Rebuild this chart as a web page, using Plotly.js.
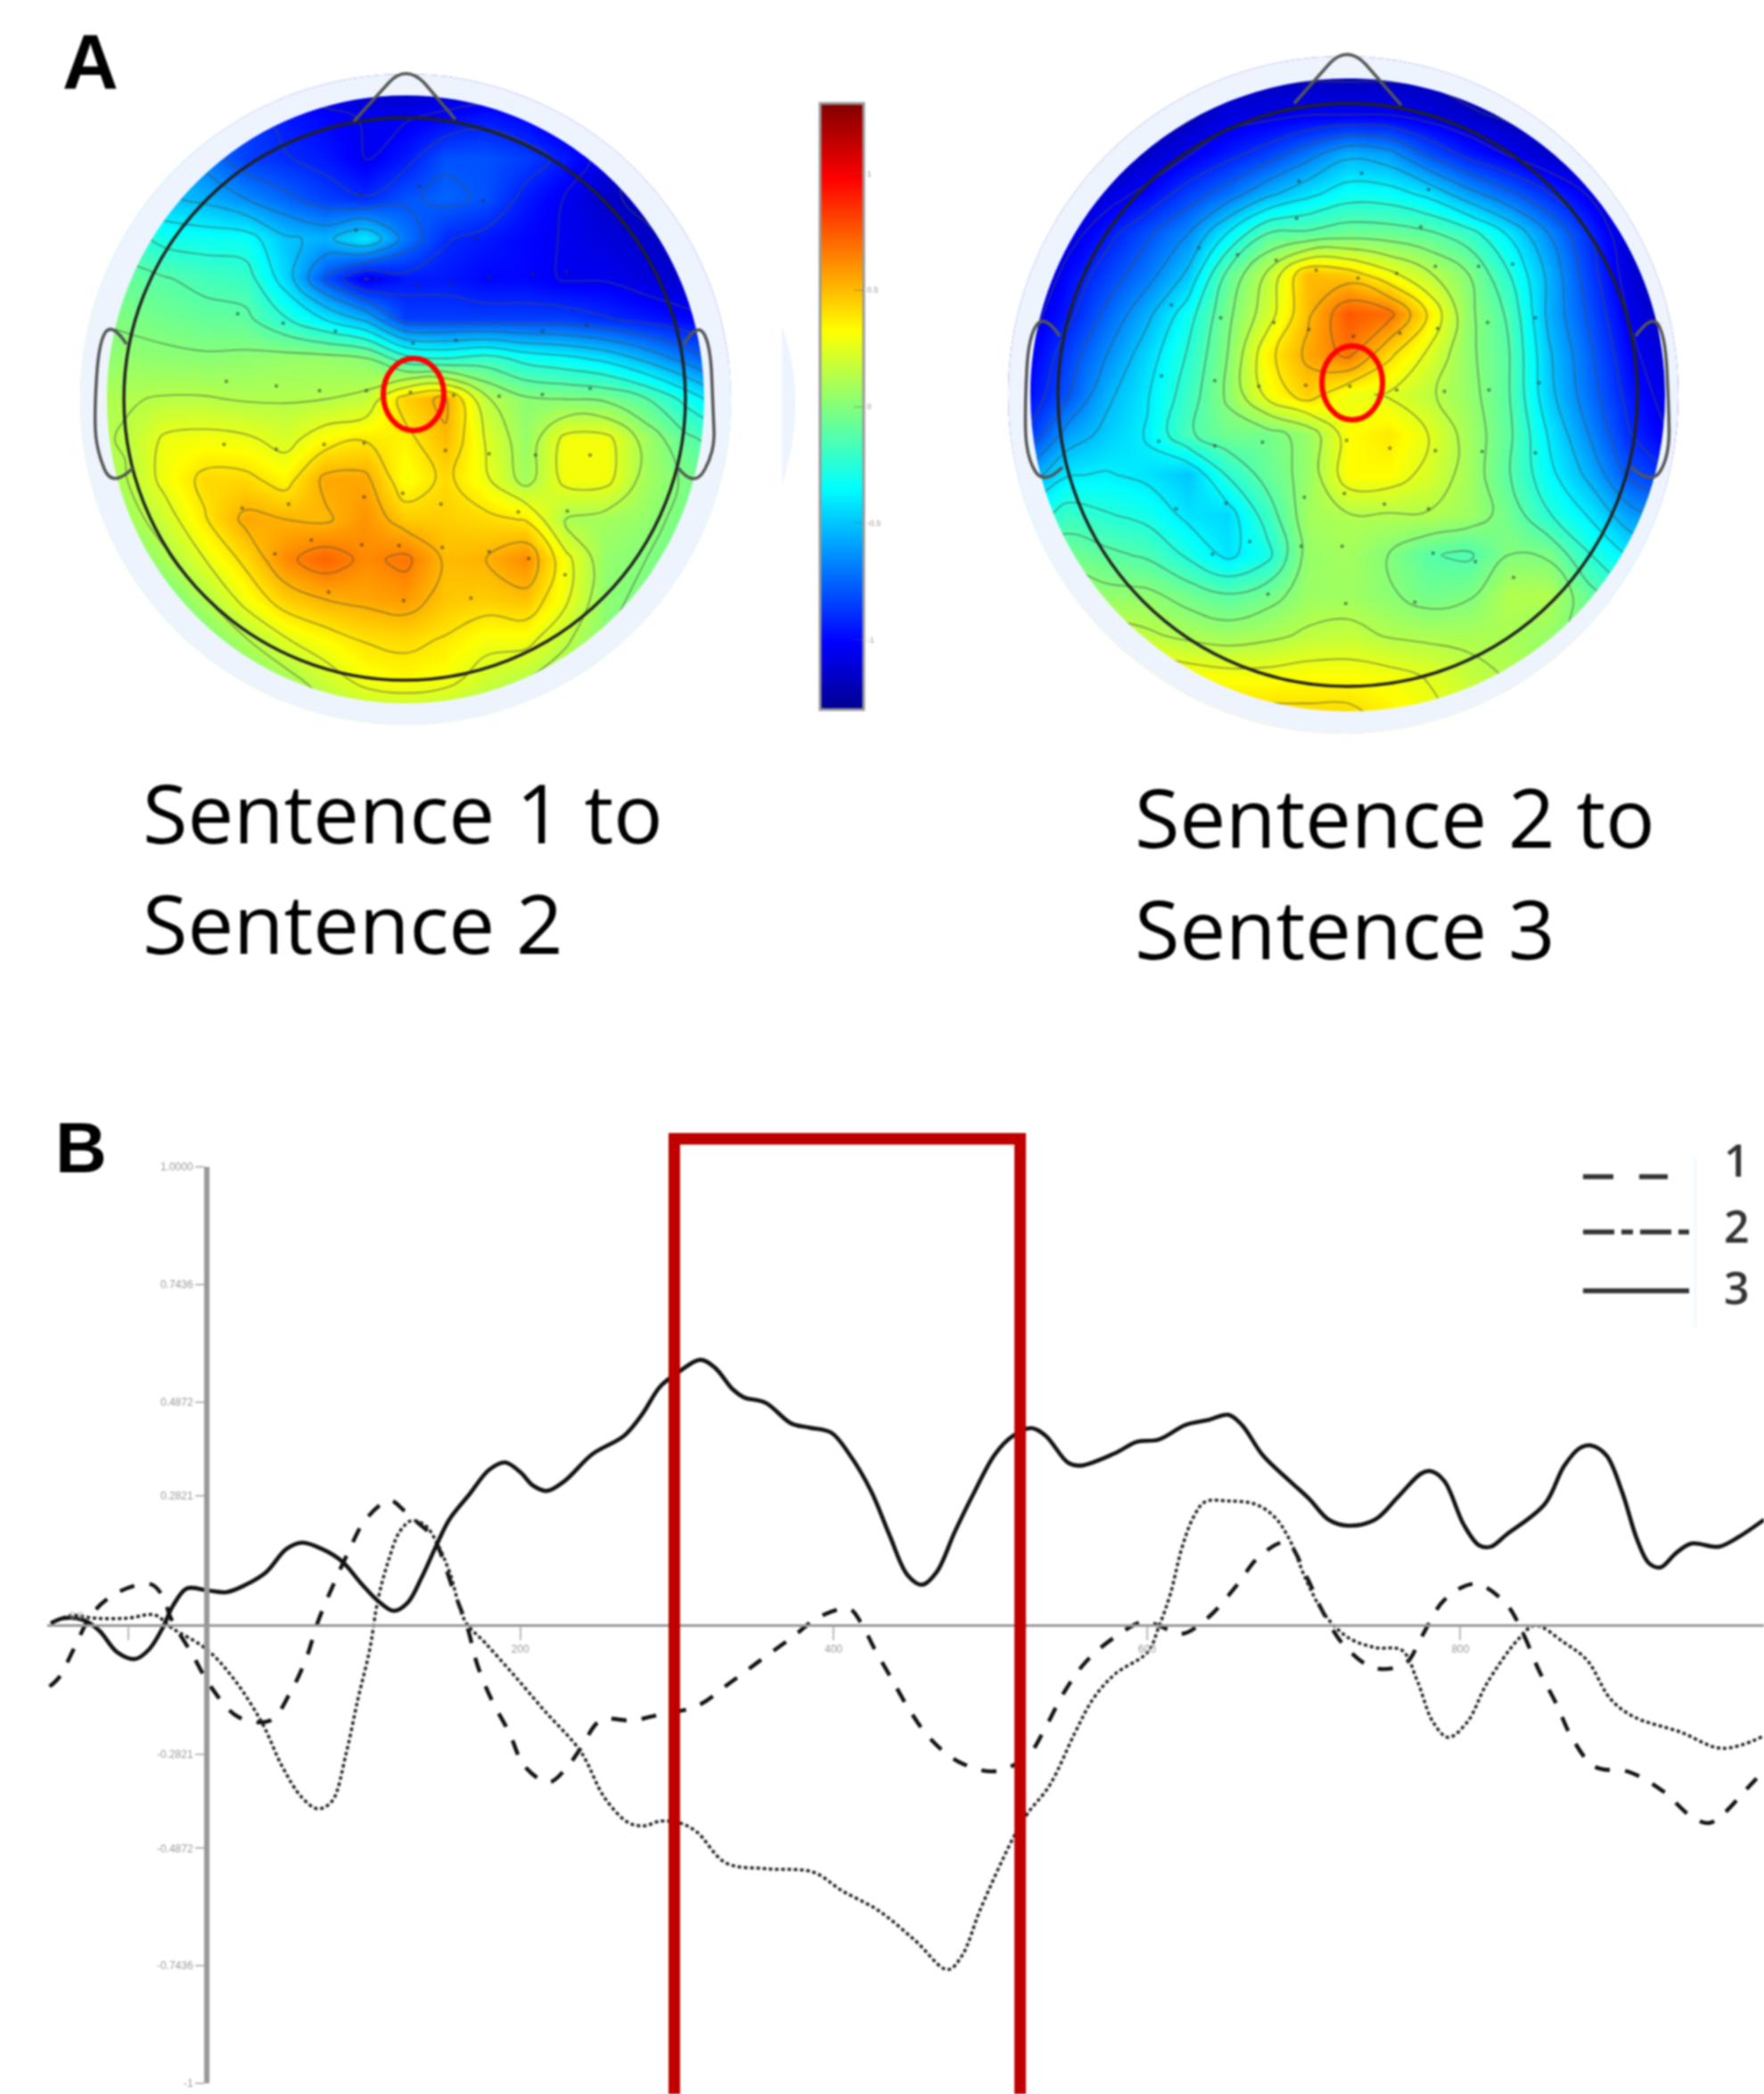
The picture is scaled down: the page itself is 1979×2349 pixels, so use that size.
<!DOCTYPE html>
<html><head><meta charset="utf-8">
<script src="https://cdn.plot.ly/plotly-3.0.1.min.js"></script>
<style>html,body{margin:0;padding:0;background:#fff}#chart{width:1979px;height:2349px;filter:blur(1px)}</style>
</head><body><div id="chart"></div>
<script>
// ---------- panel B: event-related potentials ----------
const s1Ms=[-100.3,-94,-85,-72.4,-55.9,-35.6,-28,-22.9,-8.9,2.5,20.3,40.6,53.3,63.4,71,80,90,101.5,116.8,125.6,134.5,144.7,157.4,166.3,172.6,181.5,193,203,218.3,228.5,238.6,251.3,271.6,289.4,312.6,333.5,352,373,391.5,410,417,426.3,436.8,448.4,461.2,479.7,503,523.8,535.4,547,561,579.5,598,607.4,622.3,639.5,656.8,671.5,688.8,702.3,712.2,725.7,745.4,765.1,775,789.8,809.5,829.2,840.3,850.1,861.2,871,885.8,908,929,947.4,958.5,967.1,983.1,993.7];
const s1Val=[-.134,-.113,-.053,.028,.073,.089,.062,.015,-.066,-.134,-.201,-.208,-.147,-.073,.008,.082,.157,.231,.272,.251,.224,.19,.076,-.005,-.086,-.161,-.235,-.309,-.343,-.316,-.269,-.208,-.208,-.195,-.177,-.127,-.08,-.028,.019,.035,.008,-.053,-.116,-.185,-.246,-.298,-.319,-.285,-.222,-.147,-.08,-.026,.008,-.001,-.019,.018,.085,.149,.18,.102,.029,-.044,-.094,-.083,-.027,.055,.09,.046,-.021,-.099,-.172,-.245,-.309,-.321,-.362,-.418,-.432,-.414,-.356,-.317];
const s2Ms=[-99.5,-86.4,-71.1,-50.8,-33,-22.9,0,17.8,35.5,48.2,60.9,71.1,80,88.8,96.5,104,109.2,115.5,123.1,130.7,139.6,147.2,154.9,165,177.7,195.5,215.8,238.6,253.9,269,279.3,289,301,312.6,331.2,359,386.9,405.5,428.7,451.9,472.8,482,493.7,514.5,523.8,537.8,554,565.6,579.5,600.4,607.5,614.9,622.3,629.7,637,651.8,669,681.4,691.2,701.1,713.4,728.2,745.4,762.7,772.5,782.4,792.2,804.5,816.9,836.6,847.6,866.1,880.9,895.7,910.5,940,967.1,993.7];
const s2Val=[.004,.021,.015,.015,.022,-.005,-.053,-.12,-.215,-.309,-.377,-.401,-.384,-.282,-.161,-.053,.055,.136,.204,.228,.217,.177,.116,.008,-.039,-.107,-.188,-.276,-.377,-.431,-.438,-.428,-.431,-.451,-.519,-.532,-.539,-.58,-.623,-.688,-.752,-.721,-.62,-.465,-.411,-.35,-.235,-.161,-.107,-.059,-.004,.068,.169,.236,.269,.271,.264,.236,.185,.102,.023,-.027,-.049,-.055,-.122,-.211,-.245,-.211,-.127,-.032,-.001,-.038,-.077,-.161,-.2,-.233,-.269,-.242];
const s3Ms=[-99.5,-91.4,-78.7,-68.6,-57.2,-45.7,-36.8,-28,-21.6,-12.7,0,12.7,25.4,38,50.8,61,73.6,86.3,99,109.2,119.3,128.2,137,146,154.9,167.5,180.2,190.4,200.6,208,217,228.5,246,266.2,277.8,289.4,301,315,324.2,335.8,342.8,356.7,373,384.6,398.5,410,424,435.6,447.2,456.5,465.8,477.4,489,503,514.5,526.2,535.4,549.4,557.5,579.5,593.5,607.5,624.7,639.5,651.8,660.5,674,691.2,703.6,715.9,728.2,745.4,760.2,775,781.1,789.8,802.1,811.9,819.3,829.2,853.8,866.1,876,883.4,893.2,903,912.9,920.3,927.7,937.5,947.4,964.6,976.9,993.7];
const s3Val=[.004,.015,.011,-.012,-.059,-.074,-.053,-.005,.042,.08,.076,.072,.089,.116,.166,.18,.166,.139,.089,.053,.031,.049,.103,.17,.231,.285,.339,.355,.332,.305,.293,.315,.373,.413,.46,.521,.552,.579,.562,.514,.497,.485,.44,.431,.42,.373,.292,.197,.109,.088,.116,.204,.285,.373,.413,.43,.413,.355,.348,.375,.4,.405,.437,.448,.459,.437,.37,.314,.275,.23,.217,.23,.28,.331,.336,.314,.219,.174,.171,.197,.264,.347,.386,.392,.37,.292,.185,.135,.126,.157,.178,.171,.191,.23];
const seriesNames=['1','2','3'];
const yTickVals=[1,.7436,.4872,.2821,-.2821,-.4872,-.7436,-1];
const yTickText=['1.0000','0.7436','0.4872','0.2821','-0.2821','-0.4872','-0.7436','-1'];
const xTickVals=[-50,200,400,600,800];
const xTickText=['','200','400','600','800'];

// ---------- panel A: scalp maps (columns left to right, rows front to back) ----------
const mapAX=[69,157,245,333,422,510,598,686,774,862,951,1039,1127,1215,1303,1392,1480];
const mapAY=[130,216,302,388,474,560,646,732,818,904,990,1076,1162,1248,1334,1420,1506];
const mapAZ=[
[-.8,-.8,-.8,-.8,-1,-1.1,-1.15,-1.2,-1.2,-1.2,-1.2,-1.2,-1.2,-1.25,-1.25,-1.25,-1.25],
[-.6,-.6,-.7,-.75,-.85,-.95,-1,-1.05,-1.05,-1,-.95,-1,-1.1,-1.2,-1.25,-1.25,-1.25],
[-.5,-.5,-.55,-.7,-.85,-.9,-.95,-1.05,-.95,-.8,-.8,-.85,-.95,-1.1,-1.25,-1.25,-1.25],
[-.35,-.45,-.5,-.55,-.65,-.75,-.85,-.9,-.8,-.75,-.8,-.95,-1.05,-1.15,-1.2,-1.25,-1.25],
[-.15,-.2,-.3,-.32,-.33,-.5,-.55,-.4,-.7,-.9,-.95,-1,-1.05,-1.1,-1.15,-1.2,-1.2],
[-.1,-.08,-.12,-.17,-.2,-.45,-.8,-1.05,-.95,-.95,-1,-1,-1.05,-1.05,-1.1,-1.15,-1.2],
[0,-.02,-.05,-.08,-.1,-.25,-.4,-.55,-.85,-.85,-.85,-.85,-.85,-.9,-.95,-1,-1.05],
[.02,.04,.03,.02,.03,.05,.05,.02,-.2,-.25,-.2,-.3,-.35,-.42,-.55,-.7,-.85],
[.1,.12,.14,.14,.12,.12,.13,.16,.45,.55,.15,.02,0,-.02,-.12,-.3,-.5],
[.1,.14,.28,.3,.28,.22,.33,.38,.35,.5,.25,.05,.3,.3,.08,-.1,-.2],
[.08,.12,.3,.42,.42,.34,.55,.55,.3,.42,.28,.08,.3,.3,.08,-.02,-.1],
[.02,.06,.2,.38,.55,.52,.5,.6,.46,.45,.42,.38,.1,.08,.04,-.04,-.1],
[-.1,-.05,.1,.26,.42,.62,.72,.62,.68,.5,.52,.62,.3,.04,0,-.08,-.15],
[-.15,-.1,-.05,.12,.3,.45,.52,.55,.58,.47,.45,.48,.28,.03,-.03,-.1,-.15],
[-.2,-.15,-.1,-.03,.12,.25,.33,.4,.42,.38,.3,.3,.15,0,-.1,-.15,-.2],
[-.2,-.15,-.12,-.08,-.02,.08,.2,.3,.33,.3,.2,.13,.05,-.05,-.1,-.15,-.2],
[-.2,-.15,-.12,-.1,-.08,-.05,.05,.1,.12,.1,.05,0,-.05,-.1,-.15,-.2,-.2]];
const elecAX=[675,805,945,928,665,710,800,875,958,1055,1128,405,505,620,790,885,1075,1172,380,490,585,688,785,880,980,1075,1180,375,490,595,683,862,958,1060,1180,415,517,683,768,852,1022,1130,487,567,678,760,855,958,1045,1125,605,770,918];
const elecAY=[378,362,392,472,455,560,575,570,556,550,545,635,655,672,698,692,672,660,780,790,800,800,803,810,812,808,795,915,925,915,912,928,935,938,938,1052,1043,1028,1020,1043,1060,1058,1150,1120,1130,1132,1136,1145,1160,1195,1232,1250,1245];

const mapBX=[102,190,278,367,455,543,631,720,808,896,984,1073,1161,1249,1337,1426,1514];
const mapBY=[82,168,254,340,426,512,598,684,770,856,942,1028,1114,1200,1286,1372,1458];
const mapBZ=[
[-1.25,-1.25,-1.25,-1.25,-1.25,-1.2,-1.2,-1.2,-1.2,-1.2,-1.2,-1.25,-1.25,-1.25,-1.25,-1.25,-1.25],
[-1.25,-1.25,-1.25,-1.25,-1.2,-1.1,-1.08,-1.05,-1.05,-1.05,-1.1,-1.15,-1.2,-1.25,-1.25,-1.25,-1.25],
[-1.25,-1.25,-1.25,-1.15,-1.05,-.95,-.85,-.7,-.55,-.6,-.8,-.95,-1.05,-1.15,-1.25,-1.25,-1.25],
[-1.25,-1.25,-1.1,-1,-.85,-.72,-.55,-.42,-.32,-.33,-.42,-.6,-.75,-.9,-1.05,-1.25,-1.25],
[-1.25,-1.1,-.95,-.8,-.65,-.38,-.12,-.1,-.05,-.06,-.1,-.2,-.4,-.65,-.9,-1.15,-1.3],
[-1.2,-1,-.85,-.7,-.5,-.1,.15,.5,.45,.3,.15,0,-.25,-.55,-.85,-1.1,-1.25],
[-1.1,-.95,-.75,-.55,-.32,-.03,.2,.5,.75,.7,.38,.03,-.15,-.55,-.8,-1.05,-1.2],
[-1.05,-.85,-.65,-.45,-.25,0,.35,.55,.68,.42,.24,.03,-.12,-.5,-.75,-1,-1.15],
[-1,-.8,-.55,-.4,-.2,.02,.3,.45,.28,.25,.15,.05,-.12,-.48,-.72,-.95,-1.1],
[-.9,-.6,-.48,-.38,-.15,-.05,-.05,.05,.32,.38,.26,.08,-.1,-.4,-.65,-.9,-1.05],
[-.6,-.4,-.38,-.42,-.5,-.25,-.08,.05,.33,.33,.22,.08,-.12,-.35,-.55,-.8,-.9],
[-.35,-.2,-.25,-.3,-.42,-.45,-.2,.08,.12,.12,.12,.07,-.05,-.25,-.4,-.6,-.7],
[-.1,-.05,-.1,-.15,-.28,-.42,-.3,.05,.08,0,-.12,-.15,0,-.02,-.25,-.4,-.5],
[.1,.1,.04,.03,-.05,-.12,-.05,.06,.07,.02,-.05,-.02,.12,.12,-.08,-.25,-.35],
[.25,.25,.2,.15,.1,.07,.1,.15,.17,.12,.1,.1,.1,.05,-.05,-.15,-.25],
[.4,.4,.4,.38,.33,.3,.3,.32,.32,.3,.25,.17,.12,.05,0,-.1,-.15],
[.45,.45,.45,.45,.45,.45,.43,.42,.42,.36,.3,.22,.15,.08,.02,-.05,-.1]];
const elecBX=[838,700,985,695,968,480,565,650,738,830,915,1000,1095,1170,420,528,645,722,820,922,1005,1115,1220,398,515,612,715,812,915,1020,1118,1228,392,515,620,805,900,1000,1103,1220,430,540,712,800,888,985,510,592,705,795,995,1088,632,803,955,1172];
const elecBY=[295,312,330,392,410,455,470,482,503,520,510,495,495,490,578,605,615,630,645,638,628,615,605,730,740,752,750,752,760,763,760,745,870,880,872,868,885,890,892,895,1015,1003,990,982,1005,1015,1112,1085,1095,1095,1110,1128,1198,1218,1215,1162];

const jet=[[0,'#00008f'],[.111,'#0000ff'],[.365,'#00ffff'],[.625,'#ffff00'],[.875,'#ff0000'],[1,'#800000']];
const cbVals=[-1,-.5,0,.5,1];
const cbText=['-1','-0.5','0','0.5','1'];
const captions=[['Sentence 1 to',158,910],['Sentence 2',158,1035],['Sentence 2 to',1271,915],['Sentence 3',1271,1040]];

// ---------- page geometry ----------
const W=1979,H=2349;
const fx=p=>p/W, fy=p=>1-p/H;
const P=(x,y)=>fx(x).toFixed(5)+','+fy(y).toFixed(5);
function ell(cx,cy,rx,ry){const k=.5523;return `M${P(cx-rx,cy)} C${P(cx-rx,cy-k*ry)} ${P(cx-k*rx,cy-ry)} ${P(cx,cy-ry)} C${P(cx+k*rx,cy-ry)} ${P(cx+rx,cy-k*ry)} ${P(cx+rx,cy)} C${P(cx+rx,cy+k*ry)} ${P(cx+k*rx,cy+ry)} ${P(cx,cy+ry)} C${P(cx-k*rx,cy+ry)} ${P(cx-rx,cy+k*ry)} ${P(cx-rx,cy)} Z`;}
function rect(a,b,c,d){return `M${P(a,b)} L${P(c,b)} L${P(c,d)} L${P(a,d)} Z`;}
function curve(pts){let s='M'+P(...pts[0]);for(let i=1;i<pts.length-1;i++){const mx=(pts[i][0]+pts[i+1][0])/2,my=(pts[i][1]+pts[i+1][1])/2;s+=` Q${P(...pts[i])} ${i==pts.length-2?P(...pts[i+1]):P(mx,my)}`;}return s;}
function nose(a,b,c,d,e){return `M${P(...a)} L${P(...b)} Q${P(...c)} ${P(...d)} L${P(...e)}`;}
const pale='#eef4fd', headLine={color:'#222',width:3.5}, earLine={color:'#555',width:3.5};
const ps=(path,fill,line)=>({type:'path',xref:'paper',yref:'paper',path,fillcolor:fill||'rgba(0,0,0,0)',line:line||{width:0},layer:'above'});
const ci=(cx,cy,rx,ry,line)=>({type:'circle',xref:'paper',yref:'paper',x0:fx(cx-rx),x1:fx(cx+rx),y0:fy(cy+ry),y1:fy(cy-ry),line,layer:'above'});

const shapes=[
 ps(rect(62,55,848,841)+' '+ell(455,448,365,365),'#ffffff'),
 ps(ell(455,448,365,365)+' '+ell(455,448,335,341),pale),
 ps(rect(1119,50,1905,836)+' '+ell(1507,443,376,380),'#ffffff'),
 ps(ell(1507,443,376,380)+' '+ell(1512,443,356,355),pale),
 ps(`M${P(877,365)} Q${P(908,450)} ${P(877,545)} Z`,pale),
 ci(454,447.5,315,315.5,headLine),
 ci(1512,443,325,327,headLine),
 ps(nose([397,136],[436,93],[455,72],[476,93],[511,134]),null,earLine),
 ps(curve([[142,386],[126,362],[111,383],[106,460],[108,504],[126,548],[149,525]]),null,earLine),
 ps(curve([[767,386],[782,362],[797,386],[800,460],[802,506],[779,548],[761,525]]),null,earLine),
 ps(nose([1452,116],[1491,72],[1511,50],[1532,72],[1572,118]),null,earLine),
 ps(curve([[1189,377],[1172,352],[1154,377],[1150,450],[1151,511],[1171,545],[1192,524]]),null,earLine),
 ps(curve([[1835,377],[1853,352],[1868,377],[1872,450],[1873,511],[1853,545],[1830,524]]),null,earLine),
 ci(464,442.5,34,40.5,{color:'#ff0000',width:6}),
 ci(1517,429.5,34,41.5,{color:'#ff0000',width:6}),
 {type:'rect',xref:'paper',yref:'paper',x0:fx(756.5),x1:fx(1144.5),y0:fy(H+30),y1:fy(1277.5),line:{color:'#c00000',width:13},layer:'above'},
 {type:'line',xref:'paper',yref:'paper',x0:fx(1776),x1:fx(1871),y0:fy(1320),y1:fy(1320),line:{color:'#333',width:5.5,dash:'34px,29px'}},
 {type:'line',xref:'paper',yref:'paper',x0:fx(1776),x1:fx(1895),y0:fy(1382),y1:fy(1382),line:{color:'#333',width:5.5,dash:'35px,8px,13px,8px'}},
 {type:'line',xref:'paper',yref:'paper',x0:fx(1776),x1:fx(1895),y0:fy(1448),y1:fy(1448),line:{color:'#333',width:5.5}},
 {type:'line',xref:'paper',yref:'paper',x0:fx(1902),x1:fx(1902),y0:fy(1298),y1:fy(1490),line:{color:'#f0f8fc',width:3}}
];

const ann=(text,x,y,size,opts)=>Object.assign({text,xref:'paper',yref:'paper',x:fx(x),y:fy(y),xanchor:'left',yanchor:'middle',showarrow:false,font:{size,color:'#000',family:'Open Sans, sans-serif'}},opts||{});
const annotations=captions.map(c=>ann(c[0],c[1],c[2],92));
annotations.push(ann('A',68,69,87,{font:{size:87,color:'#000',family:'Liberation Sans',weight:700}}));
annotations.push(ann('B',60,1287,80,{font:{size:80,color:'#000',family:'Liberation Sans',weight:700}}));
[['1',1301],['2',1375],['3',1444]].forEach(d=>annotations.push(ann(d[0],1948,d[1],50,{xanchor:'center',font:{size:50,color:'#333',family:'Open Sans',weight:600}})));
annotations.push(ann('0.0',76,1812,11,{font:{size:11,color:'#aaa',family:'Liberation Sans'}}));

const contourOf=(x,y,z,xa,ya)=>({type:'contour',x,y,z,xaxis:xa,yaxis:ya,showscale:false,hoverinfo:'skip',
  autocontour:false,contours:{coloring:'none',start:-1.3,end:1.3,size:.13},line:{color:'rgba(70,80,70,.5)',width:1.8,smoothing:1.2}});
const heatOf=(x,y,z,xa,ya,extra)=>Object.assign({type:'heatmap',x,y,z,xaxis:xa,yaxis:ya,zmin:-1.3,zmax:1.3,colorscale:jet,zsmooth:'best',showscale:false,hoverinfo:'skip'},extra||{});
const dots=(x,y,xa,ya)=>({type:'scatter',mode:'markers',x,y,xaxis:xa,yaxis:ya,marker:{size:4,color:'rgba(40,50,50,.6)'},hoverinfo:'skip',showlegend:false});
const lineOf=(name,x,y,line)=>({type:'scatter',mode:'lines',name,x,y,line:Object.assign({shape:'spline',smoothing:1},line),xaxis:'x',yaxis:'y'});

const data=[
 lineOf(seriesNames[0],s1Ms,s1Val,{color:'#111',width:4.4,dash:'17px,17px'}),
 lineOf(seriesNames[1],s2Ms,s2Val,{color:'#222',width:3.5,dash:'4px,3px'}),
 lineOf(seriesNames[2],s3Ms,s3Val,{color:'#111',width:4.6}),
 heatOf(mapAX,mapAY,mapAZ,'x2','y2'),
 contourOf(mapAX,mapAY,mapAZ,'x2','y2'),
 dots(elecAX,elecAY,'x2','y2'),
 heatOf(mapBX,mapBY,mapBZ,'x3','y3',{showscale:true,colorbar:{x:fx(920),xanchor:'left',y:fy(116),yanchor:'top',lenmode:'pixels',len:680,thicknessmode:'pixels',thickness:49,xpad:0,ypad:0,tickvals:cbVals,ticktext:cbText,ticks:'inside',ticklen:12,tickcolor:'rgba(90,90,90,.5)',tickfont:{size:9,color:'#999',family:'Liberation Sans'},outlinecolor:'#999',outlinewidth:3}}),
 contourOf(mapBX,mapBY,mapBZ,'x3','y3'),
 dots(elecBX,elecBY,'x3','y3')
];
const hidden=(domain,range,anchor)=>({domain,range,anchor,visible:false,fixedrange:true});
const layout={width:W,height:H,margin:{l:0,r:0,t:0,b:0},paper_bgcolor:'#fff',plot_bgcolor:'rgba(0,0,0,0)',showlegend:false,
 font:{family:'Liberation Sans',color:'#999'},
 xaxis:{domain:[fx(53),1],range:[-101.8,993.7],anchor:'free',position:fy(1823),showline:true,linecolor:'#999',linewidth:3,showgrid:false,zeroline:false,tickmode:'array',tickvals:xTickVals,ticktext:xTickText,ticks:'outside',ticklen:15,tickwidth:2,tickcolor:'#bbb',tickfont:{size:12,color:'#999'}},
 yaxis:{domain:[fy(2337),fy(1309)],range:[-1,1],anchor:'free',position:fx(232),showline:true,linecolor:'#999',linewidth:6,showgrid:false,zeroline:false,tickmode:'array',tickvals:yTickVals,ticktext:yTickText,ticks:'outside',ticklen:10,tickwidth:2,tickcolor:'#bbb',tickfont:{size:12,color:'#999'}},
 xaxis2:hidden([fx(72.5),fx(837.5)],[24.5,1524],'y2'),
 yaxis2:hidden([fy(830.5),fy(65.5)],[1550,87],'x2'),
 xaxis3:hidden([fx(1129.5),fx(1894.5)],[57.8,1557],'y3'),
 yaxis3:hidden([fy(825.5),fy(60.5)],[1502,39.2],'x3'),
 shapes,annotations};
Plotly.newPlot('chart',data,layout,{displayModeBar:false,staticPlot:true});
</script></body></html>
